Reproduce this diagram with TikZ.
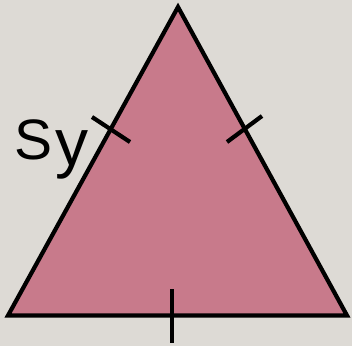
\documentclass[tikz,border=0pt]{standalone}
\usepackage{fontspec}
\setmainfont{Liberation Sans}
\definecolor{bgc}{RGB}{221,218,213}
\definecolor{tri}{RGB}{200,122,139}
\tikzset{
  edge/.style={line width=4.2pt, line join=miter},
  tick/.style={line width=4.2pt},
}
\begin{document}
\begin{tikzpicture}[x=1pt,y=-1pt]
\fill[bgc] (0,0) rectangle (352,346);
\useasboundingbox (0,0) rectangle (352,346);
\coordinate (A) at (178,7);
\coordinate (B) at (8,315.5);
\coordinate (C) at (347,315.5);
\filldraw[edge, fill=tri] (A) -- (B) -- (C) -- cycle;
\coordinate (l1) at (92,117);
\coordinate (l2) at (130,142);
\coordinate (r1) at (227,142);
\coordinate (r2) at (262,116);
\coordinate (b1) at (172,289);
\coordinate (b2) at (172,343);
\draw[tick] (l1) -- (l2);
\draw[tick] (r1) -- (r2);
\draw[tick] (b1) -- (b2);
\node[anchor=base west, inner sep=0pt, font=\fontsize{57}{60}\selectfont] (lbl) at (14.5,159.5) {S\hspace{3pt}\raisebox{-6.1pt}{\fontsize{66}{66}\selectfont y}};
\end{tikzpicture}
\end{document}
